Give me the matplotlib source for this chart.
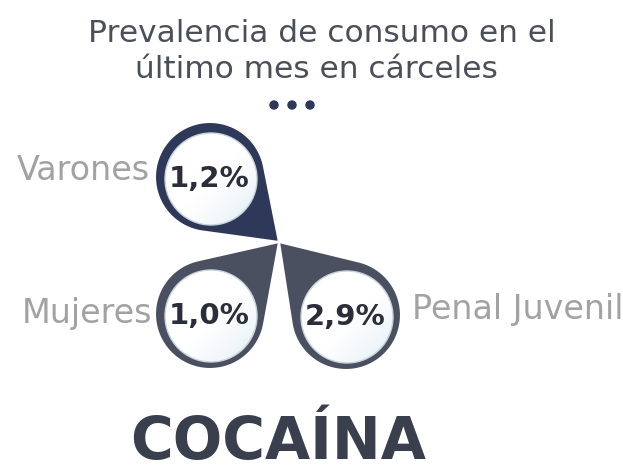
import numpy as np
import matplotlib.pyplot as plt
from matplotlib.patches import Polygon, Circle
from matplotlib.colors import LinearSegmentedColormap

# Data
groups = ['Varones', 'Mujeres', 'Penal Juvenil']
values = [1.2, 1.0, 2.9]
title_lines = ['Prevalencia de consumo en el', 'último mes en cárceles']
substance = 'COCAÍNA'

# Layout (pixel coordinates, y downwards)
tip = (279, 242)
centers = [(210, 177), (210, 314), (346, 315)]
shape_colors = ['#2e3858', '#4a505f', '#4a505f']
label_pos = [(150, 170, 'right'), (152, 314, 'right'), (412, 309, 'left')]

fig = plt.figure(figsize=(6.23, 4.68), dpi=100)
ax = fig.add_axes([0, 0, 1, 1])
ax.set_xlim(0, 623)
ax.set_ylim(468, 0)
ax.set_aspect('equal')
ax.axis('off')

cmap = LinearSegmentedColormap.from_list('bubble', ['#ffffff', '#eef5f9', '#a9cfe3'])


def teardrop(c, t, r):
    c = np.array(c, float)
    t = np.array(t, float)
    d = np.linalg.norm(t - c)
    phi = np.arctan2(t[1] - c[1], t[0] - c[0])
    a = np.arccos(r / d)
    th = np.linspace(phi + a, phi + 2 * np.pi - a, 200)
    arc = np.column_stack([c[0] + r * np.cos(th), c[1] + r * np.sin(th)])
    return np.vstack([t, arc, t])


R_out, R_in = 55, 46
for (cx, cy), col, g, v, (lx, ly, ha) in zip(centers, shape_colors, groups, values, label_pos):
    ax.add_patch(Polygon(teardrop((cx, cy), tip, R_out), closed=True,
                         facecolor=col, edgecolor='white', lw=1.5, zorder=2))
    # inner bubble with soft gradient
    icx, icy = cx + 1, cy + 2
    circ = Circle((icx, icy), R_in, facecolor='none', edgecolor='#c9d3dc', lw=1.0, zorder=4)
    ax.add_patch(circ)
    yy, xx = np.mgrid[-1:1:200j, -1:1:200j]
    grad = np.clip((xx + yy) / 2.2, 0, 1) ** 1.3
    im = ax.imshow(grad, cmap=cmap, vmin=0, vmax=1,
                   extent=[icx - R_in, icx + R_in, icy + R_in, icy - R_in], zorder=3)
    im.set_clip_path(circ)
    txt = f'{v:.1f}'.replace('.', ',') + '%'
    ax.text(icx - 2, icy, txt, ha='center', va='center', fontsize=21,
            fontweight='bold', color='#2a2e3a', zorder=5)
    ax.text(lx, ly, g, ha=ha, va='center', fontsize=24, color='#a2a2a2')

ax.set_xlim(0, 623)
ax.set_ylim(468, 0)

# Title
ax.text(322, 33, title_lines[0], ha='center', va='center', fontsize=22.5, color='#4a4f5a')
ax.text(316, 70, title_lines[1], ha='center', va='center', fontsize=22.5, color='#4a4f5a')
for x in [274, 292, 310]:
    ax.add_patch(Circle((x, 105), 4, color='#2e3858'))

ax.text(278, 442, substance, ha='center', va='center', fontsize=42,
        fontweight='heavy', color='#3a3f4e')

fig.savefig('out.png', dpi=100)
